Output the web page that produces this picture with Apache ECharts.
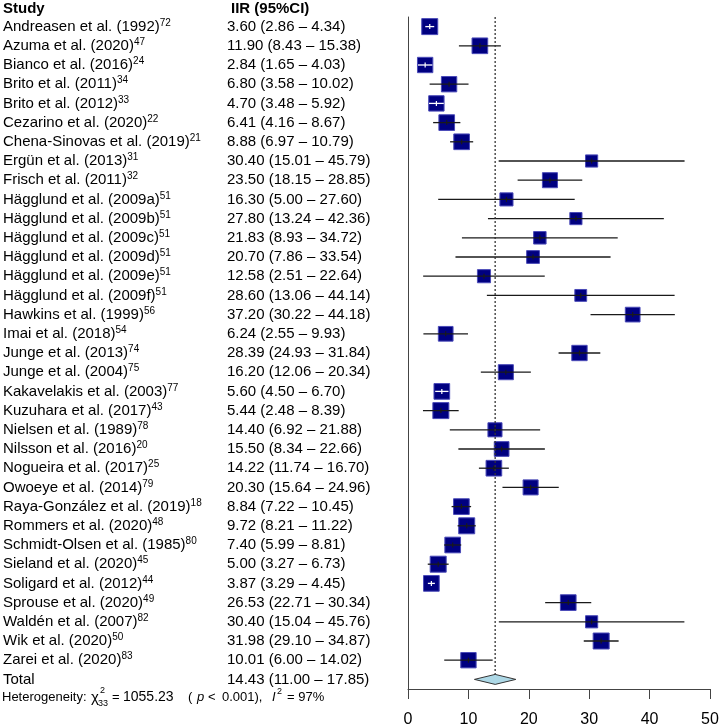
<!DOCTYPE html>
<html><head><meta charset="utf-8">
<script src="https://cdn.jsdelivr.net/npm/echarts@6/dist/echarts.min.js"></script>
<style>html,body{margin:0;padding:0;background:#fff}#c{width:722px;height:728px}</style>
</head><body><div id="c"></div>
<script>
const studies = [
  "Andreasen et al. (1992)", "Azuma et al. (2020)", "Bianco et al. (2016)", "Brito et al. (2011)",
  "Brito et al. (2012)", "Cezarino et al. (2020)", "Chena-Sinovas et al. (2019)", "Ergün et al. (2013)",
  "Frisch et al. (2011)", "Hägglund et al. (2009a)", "Hägglund et al. (2009b)", "Hägglund et al. (2009c)",
  "Hägglund et al. (2009d)", "Hägglund et al. (2009e)", "Hägglund et al. (2009f)", "Hawkins et al. (1999)",
  "Imai et al. (2018)", "Junge et al. (2013)", "Junge et al. (2004)", "Kakavelakis et al. (2003)",
  "Kuzuhara et al. (2017)", "Nielsen et al. (1989)", "Nilsson et al. (2016)", "Nogueira et al. (2017)",
  "Owoeye et al. (2014)", "Raya-González et al. (2019)", "Rommers et al. (2020)", "Schmidt-Olsen et al. (1985)",
  "Sieland et al. (2020)", "Soligard et al. (2012)", "Sprouse et al. (2020)", "Waldén et al. (2007)",
  "Wik et al. (2020)", "Zarei et al. (2020)"
];
const refs = ["72","47","24","34","33","22","21","31","32","51","51","51","51","51","51","56","54","74","75","77",
  "43","78","20","25","79","18","48","80","45","44","49","82","50","83"];
const iir = [3.60, 11.90, 2.84, 6.80, 4.70, 6.41, 8.88, 30.40, 23.50, 16.30, 27.80, 21.83, 20.70, 12.58, 28.60,
  37.20, 6.24, 28.39, 16.20, 5.60, 5.44, 14.40, 15.50, 14.22, 20.30, 8.84, 9.72, 7.40, 5.00, 3.87, 26.53, 30.40, 31.98, 10.01];
const lower = [2.86, 8.43, 1.65, 3.58, 3.48, 4.16, 6.97, 15.01, 18.15, 5.00, 13.24, 8.93, 7.86, 2.51, 13.06,
  30.22, 2.55, 24.93, 12.06, 4.50, 2.48, 6.92, 8.34, 11.74, 15.64, 7.22, 8.21, 5.99, 3.27, 3.29, 22.71, 15.04, 29.10, 6.00];
const upper = [4.34, 15.38, 4.03, 10.02, 5.92, 8.67, 10.79, 45.79, 28.85, 27.60, 42.36, 34.72, 33.54, 22.64, 44.14,
  44.18, 9.93, 31.84, 20.34, 6.70, 8.39, 21.88, 22.66, 16.70, 24.96, 10.45, 11.22, 8.81, 6.73, 4.45, 30.34, 45.76, 34.87, 14.02];
// relative study weight (box scale, largest = 1)
const studyWeight = [1.00, 0.98, 0.96, 0.96, 0.96, 0.98, 0.98, 0.76, 0.94, 0.82, 0.76, 0.78, 0.80, 0.82, 0.74,
  0.92, 0.92, 0.96, 0.94, 0.98, 1.00, 0.88, 0.92, 0.98, 0.94, 0.98, 1.00, 0.98, 1.00, 0.98, 0.98, 0.76, 1.00, 0.96];
const totalLabel = "Total";
const totalEst = 14.43, totalLo = 11.00, totalHi = 17.85;
const xMin = 0, xMax = 50, xStep = 10;
const hetChi2 = "1055.23", hetDf = "33", hetP = "0.001", hetI2 = "97%";

const FONT = "'Liberation Sans', Arial, Helvetica, sans-serif";
const BOX = 16;
const categories = studies.concat([totalLabel]);
const estAll = iir.concat([totalEst]), loAll = lower.concat([totalLo]), hiAll = upper.concat([totalHi]);
const ciText = categories.map((_, i) => `${estAll[i].toFixed(2)} (${loAll[i].toFixed(2)} – ${hiAll[i].toFixed(2)})`);
const refsAll = refs.concat([""]);

const chart = echarts.init(document.getElementById('c'), null, {renderer: 'canvas'});
const txt = (text, x, y, size, extra) => ({type: 'text', x: x, y: y, silent: true,
  style: Object.assign({text: text, font: size + 'px ' + FONT, fill: '#000', verticalAlign: 'middle', align: 'left'}, extra || {})});

const option = {
  animation: false,
  backgroundColor: '#fff',
  grid: {left: 408, right: 12, top: 17, bottom: 38, containLabel: false},
  xAxis: {
    type: 'value', min: xMin, max: xMax, interval: xStep,
    axisLine: {show: true, lineStyle: {color: '#444', width: 1}},
    axisTick: {show: true, length: 10, lineStyle: {color: '#444', width: 1}},
    axisLabel: {fontSize: 16, color: '#000', fontFamily: FONT, margin: 23},
    splitLine: {show: false}
  },
  yAxis: [
    {
      type: 'category', inverse: true, data: categories, position: 'left', offset: 0,
      axisLine: {show: true, lineStyle: {color: '#444', width: 1}}, axisTick: {show: false}, splitLine: {show: false},
      axisLabel: {
        align: 'left', margin: 405, interval: 0,
        formatter: (v, i) => refsAll[i] ? `{n|${v}}{s|${refsAll[i]}}` : `{n|${v}}`,
        rich: {
          n: {fontSize: 15, color: '#000', fontFamily: FONT, lineHeight: 17},
          s: {fontSize: 10, color: '#000', fontFamily: FONT, lineHeight: 11, verticalAlign: 'top'}
        }
      }
    },
    {
      type: 'category', inverse: true, data: ciText, position: 'left', offset: 0,
      axisLine: {show: false}, axisTick: {show: false}, splitLine: {show: false},
      axisLabel: {align: 'left', margin: 181, interval: 0, fontSize: 15, color: '#000', fontFamily: FONT}
    }
  ],
  series: [
    {
      type: 'custom', xAxisIndex: 0, yAxisIndex: 0, clip: false,
      data: studies.map((s, i) => [iir[i], i, lower[i], upper[i], studyWeight[i]]),
      renderItem: (params, api) => {
        const row = api.value(1);
        const c = api.coord([api.value(0), row]);
        const l = api.coord([api.value(2), row]);
        const h = api.coord([api.value(3), row]);
        const s = api.value(4) * BOX;
        const inside = (h[0] - l[0]) <= s;
        const lc = inside ? '#ffffff' : '#1a1a1a';
        return {type: 'group', children: [
          {type: 'rect', shape: {x: c[0] - s / 2, y: c[1] - s / 2, width: s, height: s},
           style: {fill: '#000080', stroke: '#4a4ab8', lineWidth: 1}},
          {type: 'line', shape: {x1: l[0], y1: c[1], x2: h[0], y2: c[1]}, style: {stroke: lc, lineWidth: 1.3}},
          {type: 'line', shape: {x1: c[0], y1: c[1] - 2.5, x2: c[0], y2: c[1] + 2.5}, style: {stroke: lc, lineWidth: 1.2}}
        ]};
      }
    },
    {
      type: 'custom', xAxisIndex: 0, yAxisIndex: 0, clip: false,
      data: [[totalEst, studies.length, totalLo, totalHi]],
      renderItem: (params, api) => {
        const row = api.value(1);
        const c = api.coord([api.value(0), row]);
        const l = api.coord([api.value(2), row]);
        const h = api.coord([api.value(3), row]);
        const band = api.size([0, 1])[1];
        const topY = api.coord([api.value(0), 0])[1] - band / 2;
        const hh = 5;
        return {type: 'group', children: [
          {type: 'line', shape: {x1: c[0], y1: topY, x2: c[0], y2: c[1] - hh},
           style: {stroke: '#333', lineWidth: 1.3, lineDash: [2, 2]}},
          {type: 'polygon', shape: {points: [[l[0], c[1]], [c[0], c[1] - hh], [h[0], c[1]], [c[0], c[1] + hh]]},
           style: {fill: '#ADD8E6', stroke: '#333', lineWidth: 1}}
        ]};
      }
    }
  ],
  graphic: [
    txt('Study', 3, 9, 15, {font: 'bold 15px ' + FONT}),
    txt('IIR (95%CI)', 231, 9, 15, {font: 'bold 15px ' + FONT}),
    txt('Heterogeneity:', 2, 697, 13),
    txt('χ', 91, 698, 15),
    txt('2', 100, 691, 9),
    txt(hetDf, 98, 704, 9),
    txt('=', 112, 697, 13),
    txt(hetChi2, 123, 697, 14),
    txt('(', 188, 697, 13),
    txt('p', 197, 697, 13, {font: 'italic 13px ' + FONT}),
    txt('<', 208, 697, 13),
    txt(hetP + '),', 222, 697, 13),
    txt('I', 272, 697, 13, {font: 'italic 13px ' + FONT}),
    txt('2', 277, 692, 9),
    txt('= ' + hetI2, 287, 697, 13)
  ]
};
chart.setOption(option);
</script>
</body></html>
